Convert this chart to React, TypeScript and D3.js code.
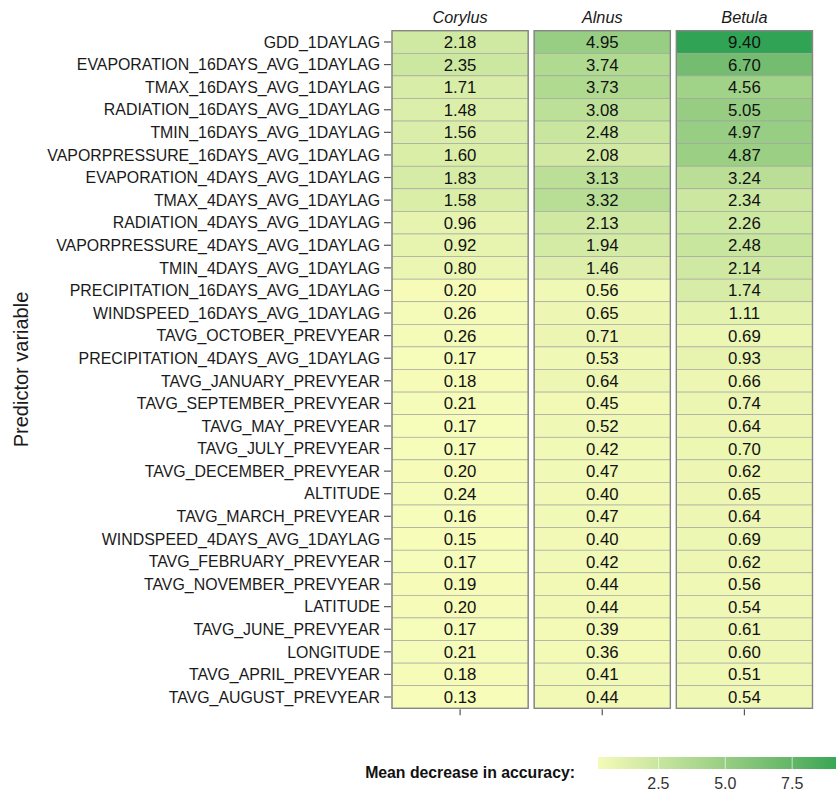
import React from "react";
import * as d3 from "d3";

const variables = [
  "GDD_1DAYLAG",
  "EVAPORATION_16DAYS_AVG_1DAYLAG",
  "TMAX_16DAYS_AVG_1DAYLAG",
  "RADIATION_16DAYS_AVG_1DAYLAG",
  "TMIN_16DAYS_AVG_1DAYLAG",
  "VAPORPRESSURE_16DAYS_AVG_1DAYLAG",
  "EVAPORATION_4DAYS_AVG_1DAYLAG",
  "TMAX_4DAYS_AVG_1DAYLAG",
  "RADIATION_4DAYS_AVG_1DAYLAG",
  "VAPORPRESSURE_4DAYS_AVG_1DAYLAG",
  "TMIN_4DAYS_AVG_1DAYLAG",
  "PRECIPITATION_16DAYS_AVG_1DAYLAG",
  "WINDSPEED_16DAYS_AVG_1DAYLAG",
  "TAVG_OCTOBER_PREVYEAR",
  "PRECIPITATION_4DAYS_AVG_1DAYLAG",
  "TAVG_JANUARY_PREVYEAR",
  "TAVG_SEPTEMBER_PREVYEAR",
  "TAVG_MAY_PREVYEAR",
  "TAVG_JULY_PREVYEAR",
  "TAVG_DECEMBER_PREVYEAR",
  "ALTITUDE",
  "TAVG_MARCH_PREVYEAR",
  "WINDSPEED_4DAYS_AVG_1DAYLAG",
  "TAVG_FEBRUARY_PREVYEAR",
  "TAVG_NOVEMBER_PREVYEAR",
  "LATITUDE",
  "TAVG_JUNE_PREVYEAR",
  "LONGITUDE",
  "TAVG_APRIL_PREVYEAR",
  "TAVG_AUGUST_PREVYEAR",
];

const species = ["Corylus", "Alnus", "Betula"];

const corylus = [2.18, 2.35, 1.71, 1.48, 1.56, 1.6, 1.83, 1.58, 0.96, 0.92, 0.8, 0.2, 0.26, 0.26, 0.17, 0.18, 0.21, 0.17, 0.17, 0.2, 0.24, 0.16, 0.15, 0.17, 0.19, 0.2, 0.17, 0.21, 0.18, 0.13];
const alnus = [4.95, 3.74, 3.73, 3.08, 2.48, 2.08, 3.13, 3.32, 2.13, 1.94, 1.46, 0.56, 0.65, 0.71, 0.53, 0.64, 0.45, 0.52, 0.42, 0.47, 0.4, 0.47, 0.4, 0.42, 0.44, 0.44, 0.39, 0.36, 0.41, 0.44];
const betula = [9.4, 6.7, 4.56, 5.05, 4.97, 4.87, 3.24, 2.34, 2.26, 2.48, 2.14, 1.74, 1.11, 0.69, 0.93, 0.66, 0.74, 0.64, 0.7, 0.62, 0.65, 0.64, 0.69, 0.62, 0.56, 0.54, 0.61, 0.6, 0.51, 0.54];

const legendTicks = [2.5, 5.0, 7.5];

const seriesBySpecies: Record<string, number[]> = {
  Corylus: corylus,
  Alnus: alnus,
  Betula: betula,
};

const FONT = "'Liberation Sans', Arial, Helvetica, sans-serif";

export default function App() {
  const W = 840;
  const H = 792;

  const all = [...corylus, ...alnus, ...betula];
  const vmin = d3.min(all) as number;
  const vmax = d3.max(all) as number;

  const color = d3
    .scaleLinear<string>()
    .domain([vmin, vmax])
    .range(["#f7fcb9", "#31a354"])
    .interpolate(d3.interpolateLab);

  const x = d3
    .scaleBand<string>()
    .domain(species)
    .range([392, 812.5])
    .paddingInner(0.042);

  const y = d3
    .scaleBand<string>()
    .domain(variables)
    .range([30.7, 708.3]);

  const bw = x.bandwidth();
  const rh = y.bandwidth();
  const top = y.range()[0];
  const bottom = y.range()[1];

  // legend
  const legendScale = d3.scaleLinear().domain([vmin, vmax]).range([595, 843]);
  const barL = 598;
  const barR = 836;
  const barT = 757;
  const barH = 12;
  const stops = d3.range(0, 21).map((i) => {
    const px = barL + ((barR - barL) * i) / 20;
    return { off: i / 20, c: color(legendScale.invert(px)) };
  });

  return (
    <svg
      width={W}
      height={H}
      style={{ position: "absolute", left: 0, top: 0, background: "#fff" }}
      fontFamily={FONT}
    >
      <defs>
        <linearGradient id="lg" x1="0" x2="1" y1="0" y2="0">
          {stops.map((s, i) => (
            <stop key={i} offset={s.off} stopColor={s.c} />
          ))}
        </linearGradient>
      </defs>

      {/* y axis title */}
      <text
        transform={`translate(28, ${(top + bottom) / 2}) rotate(-90)`}
        textAnchor="middle"
        fontSize={20}
        fill="#1a1a1a"
      >
        Predictor variable
      </text>

      {/* y labels and ticks */}
      {variables.map((v) => {
        const cy = (y(v) as number) + rh / 2;
        return (
          <g key={v}>
            <text
              x={380}
              y={cy}
              dy="0.36em"
              textAnchor="end"
              fontSize={15.9}
              fill="#1a1a1a"
            >
              {v}
            </text>
            <line x1={384} x2={391} y1={cy} y2={cy} stroke="#555" strokeWidth={1.2} />
          </g>
        );
      })}

      {/* panels */}
      {species.map((sp) => {
        const x0 = x(sp) as number;
        const vals = seriesBySpecies[sp];
        return (
          <g key={sp}>
            <text
              x={x0 + bw / 2}
              y={23}
              textAnchor="middle"
              fontSize={16.3}
              fontStyle="italic"
              fill="#1a1a1a"
            >
              {sp}
            </text>
            {variables.map((v, i) => (
              <rect
                key={v}
                x={x0}
                y={y(v) as number}
                width={bw}
                height={rh}
                fill={color(vals[i])}
                stroke="#a0a0a0"
                strokeWidth={0.6}
              />
            ))}
            {variables.map((v, i) => (
              <text
                key={"t" + v}
                x={x0 + bw / 2}
                y={(y(v) as number) + rh / 2}
                dy="0.36em"
                textAnchor="middle"
                fontSize={16.8}
                fill="#111"
              >
                {vals[i].toFixed(2)}
              </text>
            ))}
            <rect
              x={x0}
              y={top}
              width={bw}
              height={bottom - top}
              fill="none"
              stroke="#858585"
              strokeWidth={1.4}
            />
            <line
              x1={x0 + bw / 2}
              x2={x0 + bw / 2}
              y1={bottom + 1}
              y2={bottom + 7}
              stroke="#555"
              strokeWidth={1.2}
            />
          </g>
        );
      })}

      {/* legend */}
      <text
        x={575}
        y={778}
        textAnchor="end"
        fontSize={15.8}
        fontWeight="bold"
        fill="#111"
      >
        Mean decrease in accuracy:
      </text>
      <rect x={barL} y={barT} width={barR - barL} height={barH} fill="url(#lg)" />
      {legendTicks.map((t) => (
        <g key={t}>
          <line
            x1={legendScale(t)}
            x2={legendScale(t)}
            y1={barT}
            y2={barT + barH}
            stroke="#fff"
            strokeWidth={0.8}
            opacity={0.8}
          />
          <text
            x={legendScale(t)}
            y={789}
            textAnchor="middle"
            fontSize={16}
            fill="#333"
          >
            {t.toFixed(1)}
          </text>
        </g>
      ))}
    </svg>
  );
}
